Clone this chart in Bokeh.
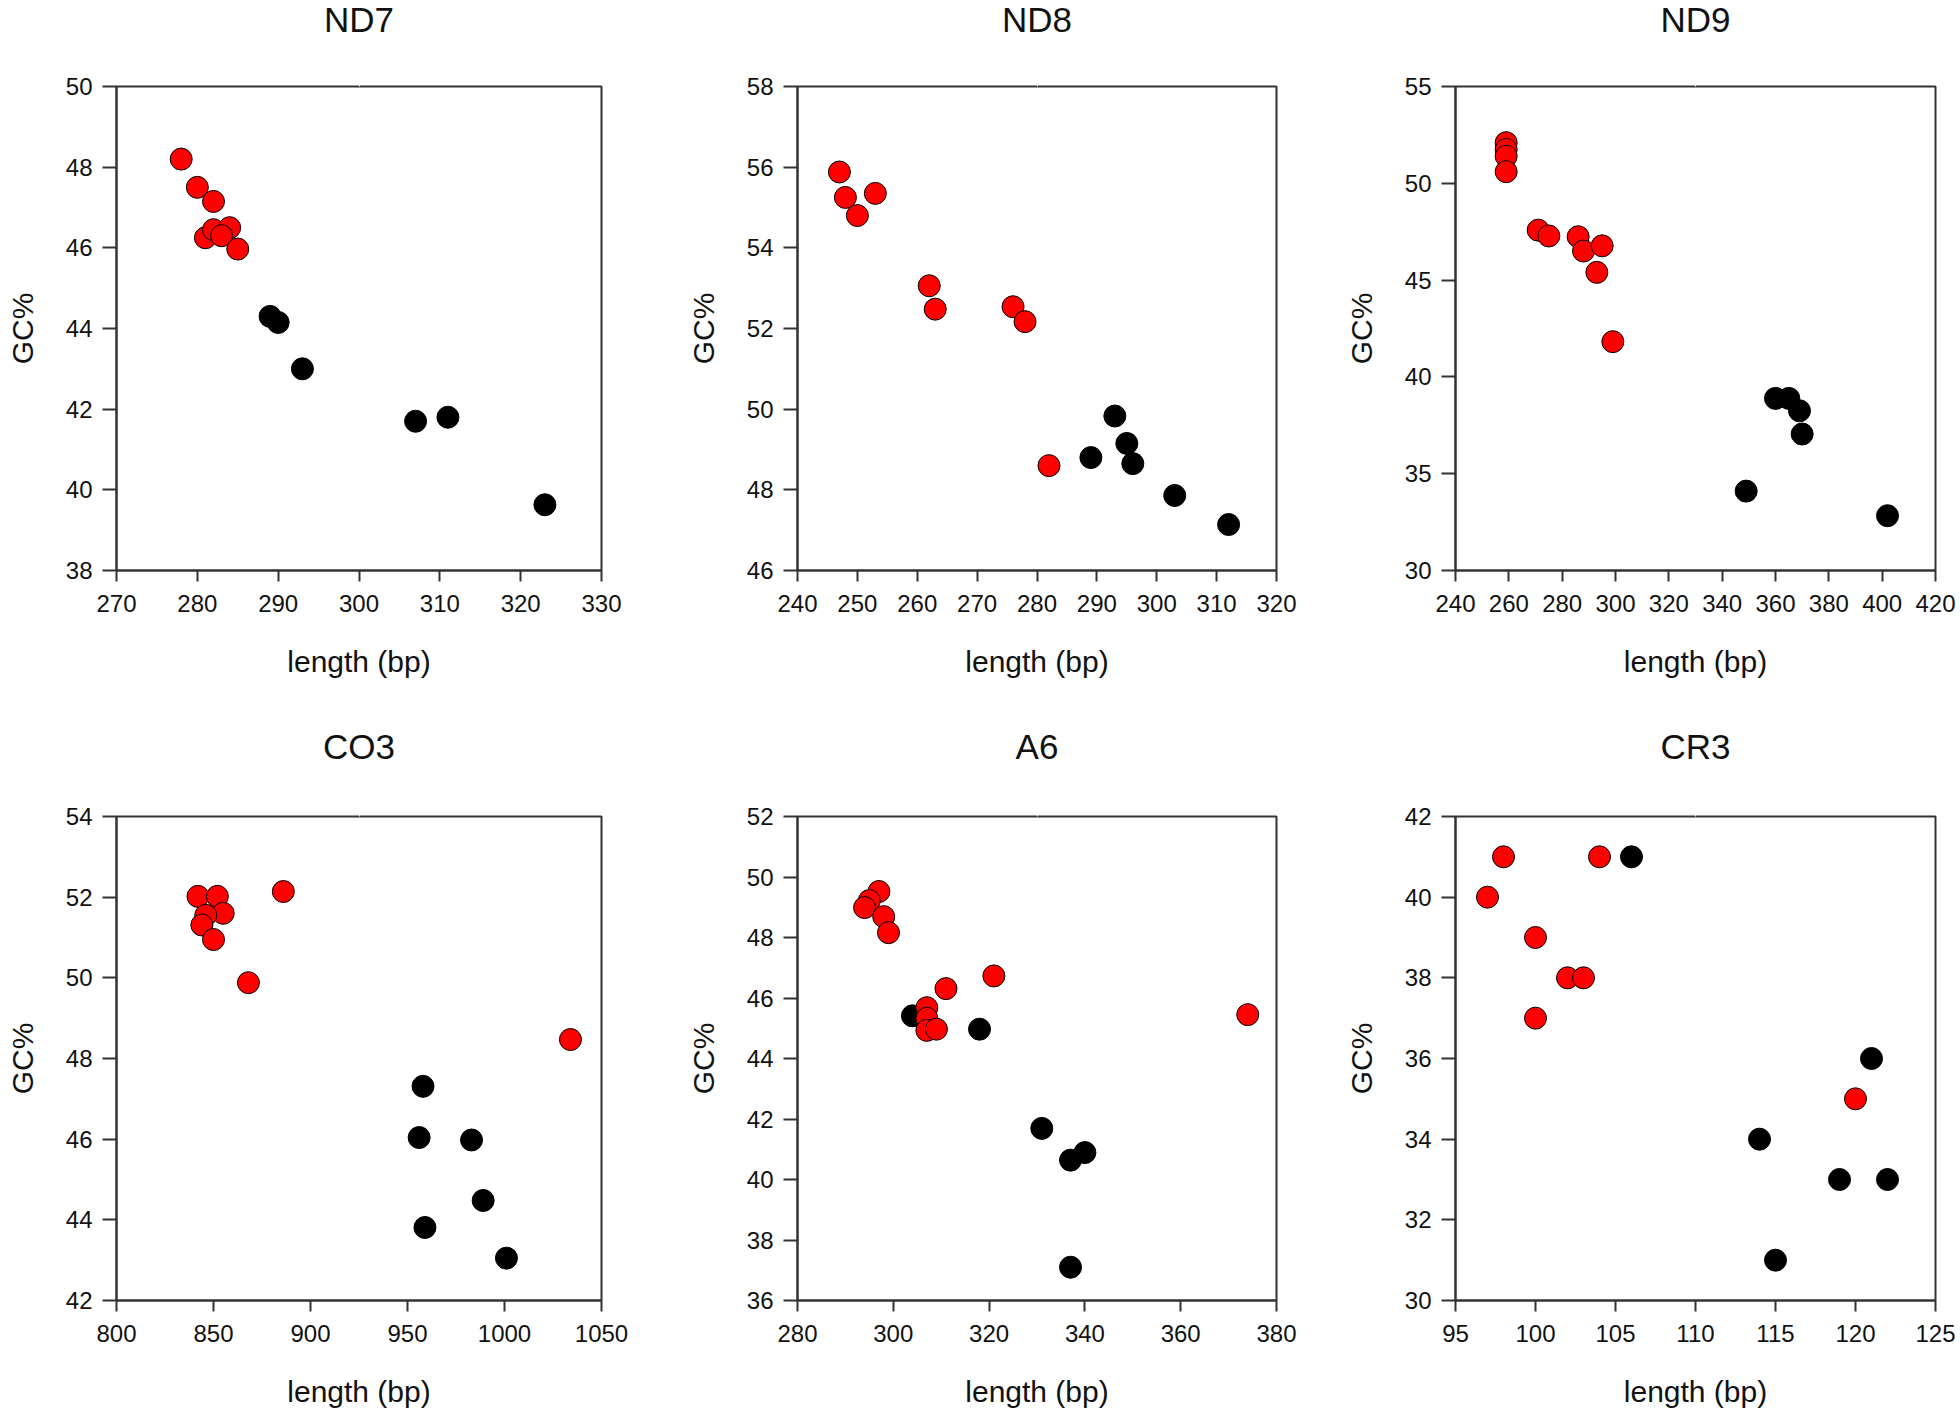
from bokeh.plotting import figure
from bokeh.layouts import column, row
from bokeh.models import Range1d, FixedTicker, Title, LinearAxis
from bokeh.embed import file_html
from bokeh.resources import INLINE

# ---------------- data ----------------
titles = ["ND7", "ND8", "ND9", "CO3", "A6", "CR3"]

nd7_red_x = [278, 280, 282, 281, 282, 284, 283, 285]
nd7_red_y = [48.2, 47.5, 47.15, 46.25, 46.45, 46.5, 46.3, 45.97]
nd7_blk_x = [289, 290, 293, 307, 311, 323]
nd7_blk_y = [44.3, 44.15, 43.0, 41.7, 41.8, 39.63]

nd8_red_x = [247, 248, 250, 253, 262, 263, 276, 278, 282]
nd8_red_y = [55.88, 55.25, 54.8, 55.35, 53.06, 52.48, 52.54, 52.17, 48.6]
nd8_blk_x = [293, 289, 295, 296, 303, 312]
nd8_blk_y = [49.83, 48.8, 49.15, 48.65, 47.86, 47.14]

nd9_red_x = [259, 259, 259, 259, 271, 275, 286, 288, 295, 293, 299]
nd9_red_y = [52.1, 51.75, 51.4, 50.6, 47.58, 47.28, 47.24, 46.5, 46.77, 45.4, 41.82]
nd9_blk_x = [360, 365, 369, 370, 349, 402]
nd9_blk_y = [38.89, 38.89, 38.25, 37.05, 34.1, 32.83]

co3_red_x = [842, 852, 855, 846, 844, 850, 868, 886, 1034]
co3_red_y = [52.02, 52.02, 51.6, 51.55, 51.31, 50.95, 49.88, 52.14, 48.47]
co3_blk_x = [958, 956, 983, 989, 959, 1001]
co3_blk_y = [47.31, 46.04, 45.98, 44.48, 43.81, 43.05]

a6_red_x = [297, 295, 294, 298, 299, 311, 321, 307, 307, 307, 309, 374]
a6_red_y = [49.52, 49.22, 48.99, 48.69, 48.16, 46.31, 46.73, 45.68, 45.33, 44.93, 44.97, 45.45]
a6_blk_x = [304, 318, 331, 337, 340, 337]
a6_blk_y = [45.41, 44.97, 41.69, 40.64, 40.89, 37.1]

cr3_red_x = [97, 98, 100, 100, 102, 103, 104, 120]
cr3_red_y = [40, 41, 39, 37, 38, 38, 41, 35]
cr3_blk_x = [106, 121, 114, 119, 122, 115]
cr3_blk_y = [41, 36, 34, 33, 33, 31]

nd7_xticks = [270, 280, 290, 300, 310, 320, 330]
nd7_yticks = [38, 40, 42, 44, 46, 48, 50]
nd8_xticks = [240, 250, 260, 270, 280, 290, 300, 310, 320]
nd8_yticks = [46, 48, 50, 52, 54, 56, 58]
nd9_xticks = [240, 260, 280, 300, 320, 340, 360, 380, 400, 420]
nd9_yticks = [30, 35, 40, 45, 50, 55]
co3_xticks = [800, 850, 900, 950, 1000, 1050]
co3_yticks = [42, 44, 46, 48, 50, 52, 54]
a6_xticks = [280, 300, 320, 340, 360, 380]
a6_yticks = [36, 38, 40, 42, 44, 46, 48, 50, 52]
cr3_xticks = [95, 100, 105, 110, 115, 120, 125]
cr3_yticks = [30, 32, 34, 36, 38, 40, 42]

x_label = "length (bp)"
y_label = "GC%"

panels = [
    (nd7_red_x, nd7_red_y, nd7_blk_x, nd7_blk_y, nd7_xticks, nd7_yticks),
    (nd8_red_x, nd8_red_y, nd8_blk_x, nd8_blk_y, nd8_xticks, nd8_yticks),
    (nd9_red_x, nd9_red_y, nd9_blk_x, nd9_blk_y, nd9_xticks, nd9_yticks),
    (co3_red_x, co3_red_y, co3_blk_x, co3_blk_y, co3_xticks, co3_yticks),
    (a6_red_x, a6_red_y, a6_blk_x, a6_blk_y, a6_xticks, a6_yticks),
    (cr3_red_x, cr3_red_y, cr3_blk_x, cr3_blk_y, cr3_xticks, cr3_yticks),
]

# ---------------- layout ----------------
FONT = "Liberation Sans"
col_widths = [683, 658, 614]
col_left = [116, 108, 108]
col_right = [82, 65, 20]
row_top = [86, 90]
row_bottom = [156, 112]
FRAME_H = 484
row_heights = [row_top[k] + FRAME_H + row_bottom[k] for k in range(2)]
AXC = "#333333"


def make_title(txt):
    kw = dict(text=txt, align="center", text_font=FONT, text_font_size="35px",
              text_font_style="normal", text_color="#111111")
    try:
        return Title(vertical_align="top", standoff=-10, **kw), True
    except Exception:
        return Title(standoff=0, **kw), False


def make(i):
    rx, ry, bx, by, xt, yt = panels[i]
    c = i % 3
    r = i // 3
    p = figure(width=col_widths[c], height=row_heights[r],
               x_range=Range1d(xt[0], xt[-1]), y_range=Range1d(yt[0], yt[-1]),
               output_backend="svg", toolbar_location=None,
               min_border_left=col_left[c], min_border_right=col_right[c],
               min_border_top=row_top[r], min_border_bottom=row_bottom[r])
    p.xgrid.visible = False
    p.ygrid.visible = False
    p.outline_line_color = AXC
    p.outline_line_width = 2
    p.background_fill_color = "white"
    p.border_fill_color = "white"

    xax = p.below[0]
    yax = p.left[0]
    xax.ticker = FixedTicker(ticks=xt)
    yax.ticker = FixedTicker(ticks=yt)
    for ax in (xax, yax):
        ax.axis_line_color = AXC
        ax.axis_line_width = 2
        ax.major_tick_line_color = AXC
        ax.major_tick_line_width = 2
        ax.major_tick_in = 0
        ax.minor_tick_line_color = None
        ax.major_label_text_font = FONT
        ax.major_label_text_font_size = "24px"
        ax.major_label_text_color = "#111111"
        ax.axis_label_text_font = FONT
        ax.axis_label_text_font_size = "30px"
        ax.axis_label_text_font_style = "normal"
        ax.axis_label_text_color = "#111111"
    xax.major_tick_out = 11
    yax.major_tick_out = 14
    xax.major_label_standoff = 13
    yax.major_label_standoff = 10
    xax.axis_label = x_label
    yax.axis_label = y_label
    xax.axis_label_standoff = 30
    yax.axis_label_standoff = 24

    title, neg = make_title(titles[i])
    gap = ([51, 54] if neg else [44, 48])[r]

    # invisible spacer (white tick, empty label) between frame and title
    mid = (xt[0] + xt[-1]) / 2
    spacer = LinearAxis(ticker=FixedTicker(ticks=[mid]), axis_line_color=None,
                        major_tick_out=gap, major_tick_in=0,
                        major_tick_line_color="white", major_tick_line_width=1,
                        minor_tick_line_color=None, major_label_standoff=0,
                        major_label_overrides={mid: ""})
    p.add_layout(spacer, "above")
    p.add_layout(title, "above")

    p.scatter(bx, by, marker="circle", size=22, fill_color="black",
              line_color="black", line_width=1)
    p.scatter(rx, ry, marker="circle", size=22, fill_color="#ff0000",
              line_color="black", line_width=1)
    return p


figs = [make(i) for i in range(6)]
layout = column(row(*figs[:3]), row(*figs[3:]))

open("out.html", "w").write(file_html(layout, INLINE))
